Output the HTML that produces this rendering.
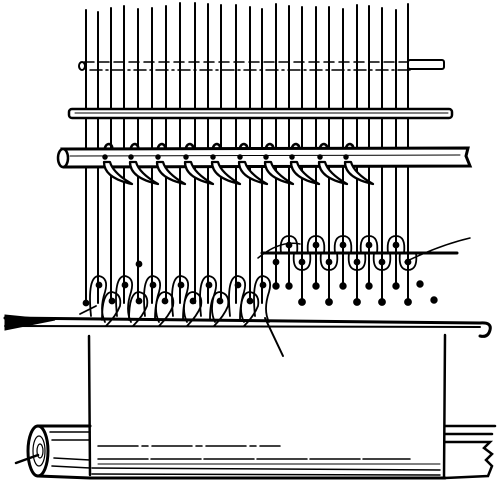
<!DOCTYPE html>
<html><head><meta charset="utf-8"><style>
html,body{margin:0;padding:0;background:#fff;width:500px;height:487px;overflow:hidden}
svg{display:block}
</style></head><body>
<svg id="art" width="500" height="487" viewBox="0 0 500 487" xmlns="http://www.w3.org/2000/svg" stroke="#000" fill="none" stroke-linecap="round">
<g id="warps" stroke-width="2"></g>
<g>
 <line x1="84" y1="62" x2="410" y2="62" stroke-width="1.5" stroke-dasharray="10,5"/>
 <line x1="90" y1="70" x2="410" y2="70" stroke-width="1.5" stroke-dasharray="12,4,2,4"/>
 <rect x="408" y="60" width="36" height="9" rx="2" stroke-width="2" fill="#fff"/>
 <ellipse cx="82" cy="66" rx="3" ry="4" stroke-width="2"/>
</g>
<g>
 <rect x="69" y="109" width="383" height="9" rx="3" stroke-width="2.5" fill="#fff"/>
 <line x1="75" y1="113" x2="448" y2="113" stroke-width="1"/>
</g>
<g id="hookback" stroke-width="2.5"></g>
<g>
 <path d="M62 149 L468 148 L466 156 L470 166 L64 167 Z" stroke-width="3" fill="#fff"/>
 <ellipse cx="63" cy="158" rx="5" ry="9" stroke-width="2.5" fill="#fff"/>
 <line x1="70" y1="156" x2="460" y2="155" stroke-width="1"/>
</g>
<g id="hooks" stroke-width="2.3"></g>
<g id="lower" stroke-width="1.8"></g>
<g>
 <path d="M5 318 L480 323 Q492 322 490 330 Q488 338 480 336" stroke-width="3"/>
 <path d="M5 315 L55 320 L5 330 Z" fill="#000" stroke-width="1"/>
 <line x1="5" y1="326" x2="480" y2="327" stroke-width="2"/>
</g>
<g>
 <line x1="89" y1="336" x2="90" y2="475" stroke-width="2.5"/>
 <line x1="445" y1="335" x2="444" y2="478" stroke-width="2.5"/>
 <line x1="265" y1="318" x2="283" y2="356" stroke-width="2"/>
 <line x1="98" y1="446" x2="280" y2="446" stroke-width="1.5" stroke-dasharray="40,4,6,4"/>
 <line x1="98" y1="459" x2="410" y2="459" stroke-width="1.5" stroke-dasharray="50,3"/>
 <line x1="98" y1="464" x2="440" y2="464" stroke-width="1" />
</g>
<g>
 <path d="M38 426 L90 426 M38 476 L90 478 M88 478 L440 478 L445 478" stroke-width="3"/>
 <path d="M92 468 L440 470 M92 474 L440 475" stroke-width="1.5"/>
 <path d="M445 426 L495 426 M445 434 L492 434 M445 442 L490 442 L484 448 L492 454 L486 460 L492 466 L488 476 L445 478" stroke-width="2.5"/>
 <path d="M50 432 L90 432 M52 440 L90 440 M54 458 L90 460 M52 466 L90 468" stroke-width="1.5"/>
 <ellipse cx="38" cy="451" rx="10" ry="25" stroke-width="3" fill="#fff"/>
 <ellipse cx="39" cy="451" rx="6" ry="15" stroke-width="1.2"/>
 <ellipse cx="40" cy="451" rx="3" ry="7" stroke-width="1.2"/>
 <line x1="16" y1="463" x2="38" y2="455" stroke-width="2.5"/>
</g>
<g>
 <line x1="262" y1="253" x2="457" y2="253" stroke-width="3"/>
 <path d="M258 258 Q280 240 300 244 M405 262 Q440 245 470 238" stroke-width="1.5"/>
</g>
<g id="right" stroke-width="1.8"></g>
</svg>
<script>
const NS='http://www.w3.org/2000/svg';
function mk(parent,tag,attrs,name){const e=document.createElementNS(NS,tag);for(const k in attrs)e.setAttribute(k,attrs[k]);


document.getElementById(parent).appendChild(e);return e;}
const leftX=[86,98,111,124,138,152,166,180,195,208,221,236,250,262];
const leftUp=[99,125,153,181,209,238,263];
const leftLow=[112,139,165,193,220,250];
const rightShort=[276,289,316,343,369,396];
const rightLong=[302,329,357,382,408];
const topY=[10,12,8,6,9,8,6,3,3,4,5,5,7,9,4,6,7,9,6,10,7,7,5,8,4];
const hookX=[105,131,158,186,213,240,266,292,320,346];
leftX.forEach((x,i)=>{const end=leftUp.includes(x)?282:(leftLow.includes(x)?298:303);
 mk('warps','line',{x1:x,y1:topY[i],x2:x,y2:end},'warp-thread');});
rightShort.forEach((x,i)=>{mk('warps','line',{x1:x,y1:topY[14+i]||6,x2:x,y2:286},'warp-thread');});
rightLong.forEach((x,i)=>{mk('warps','line',{x1:x,y1:topY[20+i]||6,x2:x,y2:302},'warp-thread');});
// hooks
hookX.forEach(x=>{
 mk('hookback','path',{d:`M${x-1} 152 Q${x} 144 ${x+4} 144 Q${x+8} 145 ${x+7} 150`},'hook-top');
 mk('hooks','path',{d:`M${x-1} 162 Q${x-1} 178 ${x+27} 184 Q${x+8} 173 ${x+5} 162 Z`,fill:'#fff','stroke-linejoin':'round'},'hook');
 mk('hooks','circle',{cx:x,cy:157,r:1.6,fill:'#000'},'hook-pin');});
leftUp.forEach(x=>{mk('lower','path',{d:`M${x-8} 316 Q${x-12} 276 ${x} 276 Q${x+10} 278 ${x+6} 292 Q${x} 310 ${x+6} 322`},'upper-loop');
 mk('lower','circle',{cx:x,cy:285,r:2.5,fill:'#000'},'thread-knot');});
leftLow.forEach(x=>{mk('lower','path',{d:`M${x-10} 320 Q${x-10} 292 ${x} 292 Q${x+10} 294 ${x+8} 306 Q${x+4} 316 ${x-6} 326`},'lower-loop');
 mk('lower','circle',{cx:x,cy:301,r:2.5,fill:'#000'},'thread-knot');});
mk('lower','circle',{cx:86,cy:303,r:2.5,fill:'#000'},'thread-knot');
mk('lower','line',{x1:80,y1:314,x2:96,y2:306},'loose-thread');
mk('lower','circle',{cx:139,cy:264,r:2.5,fill:'#000'},'thread-knot');
[289,316,343,369,396].forEach(x=>{mk('right','path',{d:`M${x-8} 253 Q${x-10} 236 ${x} 236 Q${x+10} 236 ${x+8} 253`},'upper-loop');
 mk('right','circle',{cx:x,cy:245,r:2.5,fill:'#000'},'thread-knot');});
rightLong.forEach(x=>{mk('right','path',{d:`M${x-8} 253 Q${x-10} 270 ${x} 270 Q${x+10} 270 ${x+8} 253`},'lower-loop');
 mk('right','circle',{cx:x,cy:262,r:2.5,fill:'#000'},'thread-knot');});
mk('right','circle',{cx:276,cy:262,r:2.5,fill:'#000'},'thread-knot');
rightShort.forEach(x=>mk('right','circle',{cx:x,cy:286,r:2.8,fill:'#000'},'thread-end'));
rightLong.forEach(x=>mk('right','circle',{cx:x,cy:302,r:3,fill:'#000'},'thread-end'));
mk('right','circle',{cx:420,cy:284,r:2.8,fill:'#000'},'thread-end');
mk('right','circle',{cx:434,cy:300,r:2.8,fill:'#000'},'thread-end');
</script>
</body></html>
